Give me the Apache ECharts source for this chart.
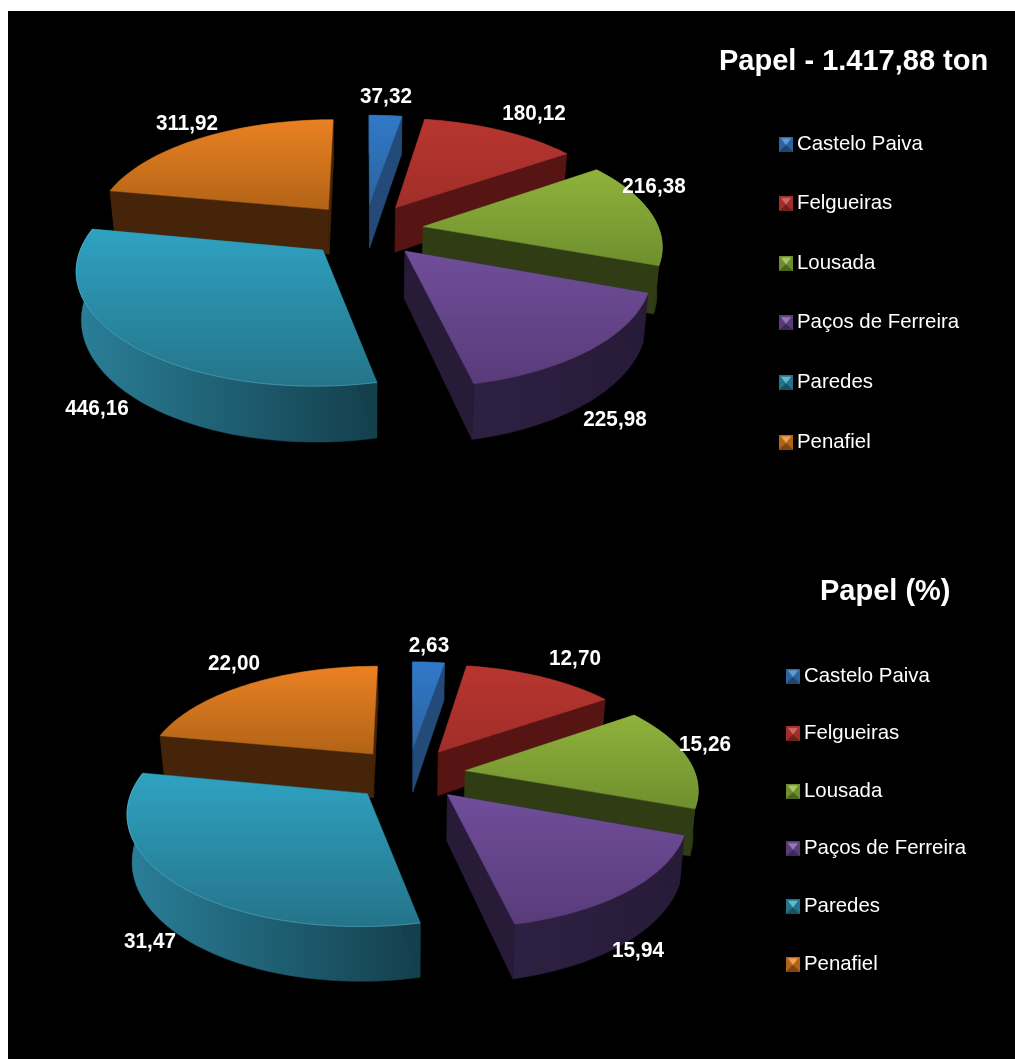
<!DOCTYPE html>
<html><head><meta charset="utf-8">
<style>html,body{margin:0;padding:0;background:#fff}#chart{position:absolute;left:0;top:0;width:1015px;height:1059px}</style>
<script src="https://cdn.jsdelivr.net/npm/echarts@6/dist/echarts.min.js"></script>
</head><body><div id="chart"></div>
<script>
// ---- data ----
var categories = ['Castelo Paiva','Felgueiras','Lousada','Paços de Ferreira','Paredes','Penafiel'];
var paperTons = [37.32,180.12,216.38,225.98,446.16,311.92];
var paperPercent = [2.63,12.70,15.26,15.94,31.47,22.00];
var titleTons = 'Papel - 1.417,88 ton';
var titlePercent = 'Papel (%)';

// ---- look ----
var faceTop   = ['#3079C8','#B8352F','#8FB23C','#704E9A','#2FA2C2','#EA8122'];
var faceBot   = ['#2D639F','#A02E2A','#6E8F2E','#593B7A','#247489','#B26317'];
var rimLeft   = ['#27578C','#5E1615','#35421A','#2E2042','#2A7F99','#4A280B'];
var rimRight  = ['#234A78','#561413','#303C14','#271B38','#143F4C','#452409'];
var edgeGlow  = ['rgba(0,0,0,0)','rgba(0,0,0,0)','rgba(190,220,110,.2)','rgba(0,0,0,0)','rgba(120,220,240,.35)','rgba(0,0,0,0)'];
var drawOrder = [5,0,1,2,4,3];
var pieTop = {cx:365,cy:230,R:236,K:109,T:46,labels:[[386,97],[534,114],[654,187],[615,420],[97,409],[187,124]]};
var pieBot = {cx:408.5,cy:774,R:230,K:106.5,T:45,labels:[[429,646],[575,659],[705,745],[638,951],[150,942],[234,664]]};
var PERSP = 0.15, EXPLODE = 0.25, SHRINK = 0.982;

function project(p,u,v,low){
  var D = 1 + PERSP*v, x = p.R*u/D, y = -p.K*v/D;
  if(low){ x *= SHRINK; y += p.T/D; }
  return [p.cx+x, p.cy+y];
}
function sliceShapes(p,values,i,k){
  var total = values.reduce(function(a,b){return a+b},0), before = 0;
  for(var j=0;j<i;j++) before += values[j];
  var a0 = before/total*2*Math.PI, a1 = (before+values[i])/total*2*Math.PI, mid=(a0+a1)/2;
  var ox = EXPLODE*Math.sin(mid), oy = EXPLODE*Math.cos(mid);
  var n = Math.max(3,Math.ceil((a1-a0)/0.03)), top=[], low=[];
  for(var s=0;s<=n;s++){
    var a=a0+(a1-a0)*s/n, u=ox+Math.sin(a), v=oy+Math.cos(a);
    top.push(project(p,u,v,false)); low.push(project(p,u,v,true));
  }
  var apexT=project(p,ox,oy,false), apexL=project(p,ox,oy,true);
  var grad=function(c0,c1,h){return {type:'linear',x:0,y:0,x2:h?1:0,y2:h?0:1,colorStops:[{offset:0,color:c0},{offset:1,color:c1}]}};
  var rimFill=grad(rimLeft[i],rimRight[i],true), wall=rimRight[i];
  var poly=function(pts,fill,z){return {type:'polygon',shape:{points:pts},style:{fill:fill,stroke:fill,lineWidth:.5},z2:z}};
  var kids=[
    poly(top.concat(low.slice().reverse()),rimFill,1),
    poly([apexT,top[0],low[0],apexL],wall,2),
    poly([apexT,top[n],low[n],apexL],wall,2),
    poly([apexT].concat(top),grad(faceTop[i],faceBot[i],false),3),
    {type:'polyline',shape:{points:top},style:{fill:null,stroke:edgeGlow[i],lineWidth:1},z2:4}
  ];
  kids.push({type:'text',z2:9,x:p.labels[i][0],y:p.labels[i][1],scaleX:.92,style:{x:0,y:0,text:k.toFixed(2).replace('.',','),
    fill:'#fff',align:'center',verticalAlign:'middle',font:'bold 22.5px "Liberation Sans", Arial, sans-serif'}});
  return {type:'group',children:kids};
}
function makeSeries(p,values){
  return drawOrder.map(function(i){
    return {type:'custom',name:categories[i],coordinateSystem:'none',silent:true,
      itemStyle:{color:faceTop[i]},data:[[values[i]]],
      renderItem:function(params,api){return sliceShapes(p,values,i,api.value(0));}};
  });
}
function bevelIcon(i){
  var c=document.createElement('canvas');c.width=56;c.height=60;var g=c.getContext('2d');
  var tri=function(pts,col,al){g.globalAlpha=al;g.fillStyle=col;g.beginPath();pts.forEach(function(q,n){n?g.lineTo(q[0],q[1]):g.moveTo(q[0],q[1])});g.closePath();g.fill();};
  g.fillStyle=faceBot[i];g.fillRect(0,0,56,60);
  tri([[0,60],[56,60],[28,34]],'#000',.3);
  tri([[7,7],[49,7],[28,34]],faceTop[i],1);
  tri([[7,7],[49,7],[28,34]],'#fff',.25);
  return 'image://'+c.toDataURL();
}
function legendOf(left,top,gap){
  return {orient:'vertical',left:left,top:top,padding:0,itemWidth:14,itemHeight:15,itemGap:gap,selectedMode:false,
    textStyle:{color:'#fff',fontSize:20.4,lineHeight:15,fontFamily:'"Liberation Sans", Arial, sans-serif',padding:[0,0,0,-1]},
    data:categories.map(function(n,i){return {name:n,icon:bevelIcon(i)}})};
}
var titleFont={color:'#fff',fontSize:29,fontWeight:'bold',fontFamily:'"Liberation Sans", Arial, sans-serif'};
var chart=echarts.init(document.getElementById('chart'),null,{renderer:'canvas'});
chart.setOption({
  animation:false,backgroundColor:'#fff',
  graphic:[{type:'rect',z:-10,shape:{x:8,y:11,width:1007,height:1048},style:{fill:'#000'},silent:true}],
  title:[{text:titleTons,left:719,top:47,padding:0,textStyle:titleFont},{text:titlePercent,left:820,top:577,padding:0,textStyle:titleFont}],
  legend:[legendOf(779,134,39.6),legendOf(786,666,37.6)],
  series:makeSeries(pieTop,paperTons).concat(makeSeries(pieBot,paperPercent))
});
</script></body></html>
